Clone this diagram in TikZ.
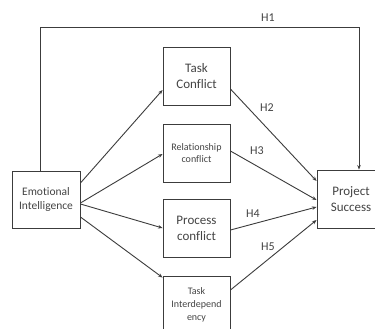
\documentclass[tikz,border=0pt]{standalone}
\usepackage{fontspec}
\setmainfont[Ligatures={NoCommon}]{Carlito}
\usetikzlibrary{arrows.meta}
\definecolor{ln}{HTML}{3C3C3C}
\definecolor{tx}{HTML}{444444}
\begin{document}
\begin{tikzpicture}[x=1pt,y=-1pt,
  box/.style={draw=ln,line width=0.9pt,rectangle,align=center,text=tx,inner sep=1pt},
  arr/.style={draw=ln,line width=0.9pt,-{Stealth[length=4.5pt,width=3.5pt]}},
  hlab/.style={text=tx,font=\fontsize{12}{14}\selectfont,inner sep=0pt}]
\useasboundingbox (0,0) rectangle (375,329);
\clip (0,0) rectangle (375,329);
\fill[white] (0,0) rectangle (375,329);
\node[box,minimum width=68pt,minimum height=57pt,font=\fontsize{11.5}{14}\selectfont] (EI) at (46,199.5) {Emotional\\Intelligence};
\node[box,minimum width=67pt,minimum height=58pt,font=\fontsize{13}{16}\selectfont] (TC) at (196.5,76) {Task\\Conflict};
\node[box,minimum width=67pt,minimum height=58pt,font=\fontsize{10}{12}\selectfont] (RC) at (196.5,153) {Relationship\\conflict};
\node[box,minimum width=67pt,minimum height=58pt,font=\fontsize{13}{16}\selectfont] (PC) at (196.5,228) {Process\\conflict};
\node[box,minimum width=67pt,minimum height=58pt,font=\fontsize{10}{13}\selectfont] (TI) at (196.5,305) {Task\\Interdepend\\ency};
\node[box,minimum width=68pt,minimum height=58pt,font=\fontsize{13}{16}\selectfont] (PS) at (351,199) {Project\\Success};
\coordinate (h1a) at (40,27);
\coordinate (h1b) at (359,27);
\draw[arr] ([xshift=-6pt]EI.north) -- (h1a) -- (h1b) -- ([xshift=8pt]PS.north);
\draw[arr] ([yshift=16.5pt]EI.east) -- ([yshift=-14pt]TC.west);
\draw[arr] ([yshift=-3.5pt]EI.east) -- ([yshift=-1pt]RC.west);
\draw[arr] ([yshift=-4.5pt]EI.east) -- (PC.west);
\draw[arr] ([yshift=-17.5pt]EI.east) -- ([yshift=-2pt]TI.north west);
\draw[arr] ([yshift=-13pt]TC.east) -- ([yshift=18pt]PS.west);
\draw[arr] ([yshift=2pt]RC.east) -- ([yshift=-1pt]PS.west);
\draw[arr] ([yshift=-2pt]PC.east) -- ([yshift=-8pt]PS.west);
\draw[arr] ([yshift=15pt]TI.east) -- ([yshift=-21pt]PS.west);
\node[hlab] (H1) at (268,18) {H1};
\node[hlab] (H2) at (267,108) {H2};
\node[hlab] (H3) at (257,151) {H3};
\node[hlab] (H4) at (253,214) {H4};
\node[hlab] (H5) at (268,247) {H5};
\end{tikzpicture}
\end{document}
